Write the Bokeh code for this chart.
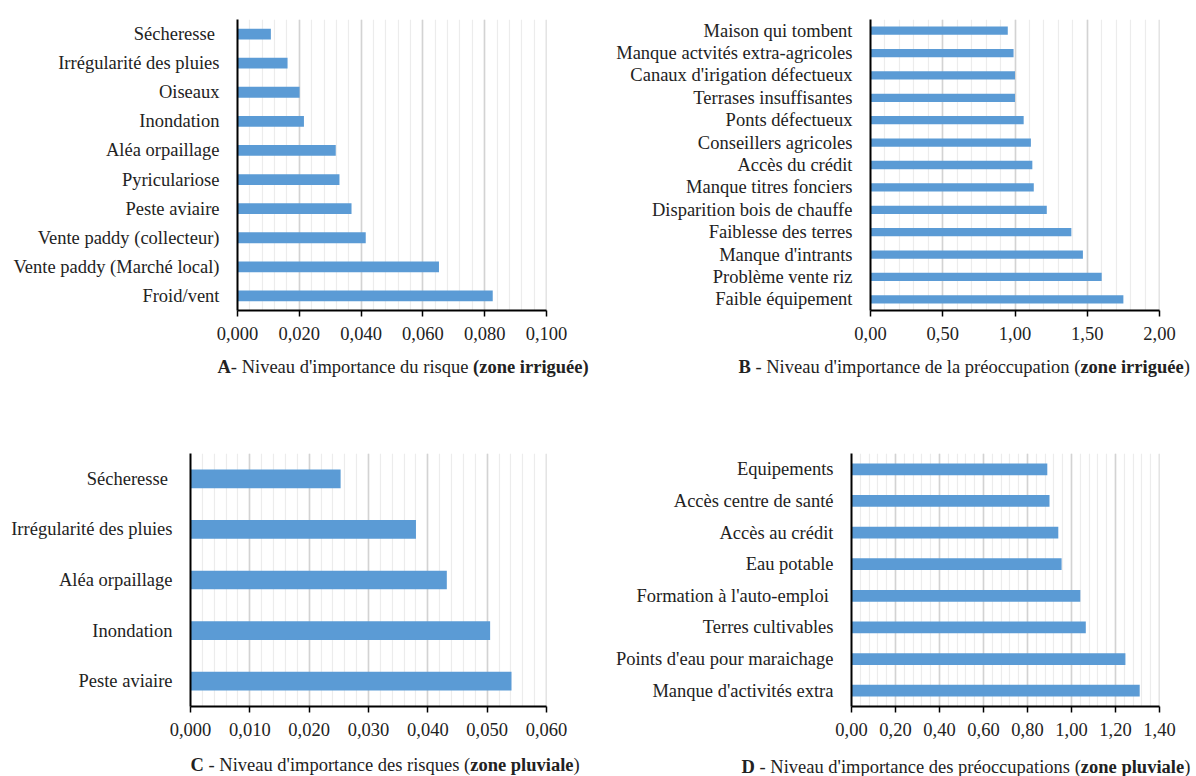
from bokeh.plotting import figure
from bokeh.models import (Range1d, SingleIntervalTicker, FixedTicker,
                          CustomJSTickFormatter, Label)
from bokeh.layouts import column, row
from bokeh.embed import file_html
from bokeh.resources import INLINE

# ---------------- data ----------------
A_labels = ["Sécheresse ", "Irrégularité des pluies", "Oiseaux", "Inondation",
            "Aléa orpaillage", "Pyriculariose", "Peste aviaire",
            "Vente paddy (collecteur)", "Vente paddy (Marché local)", "Froid/vent"]
A_values = [0.0108, 0.0162, 0.0201, 0.0215, 0.0318, 0.0330, 0.0369,
            0.0415, 0.0652, 0.0826]

B_labels = ["Maison qui tombent", "Manque actvités extra-agricoles",
            "Canaux d'irigation défectueux", "Terrases insuffisantes",
            "Ponts défectueux", "Conseillers agricoles", "Accès du crédit",
            "Manque titres fonciers", "Disparition bois de chauffe",
            "Faiblesse des terres", "Manque d'intrants", "Problème vente riz",
            "Faible équipement"]
B_values = [0.95, 0.99, 1.00, 1.00, 1.06, 1.11, 1.12, 1.13, 1.22, 1.39,
            1.47, 1.60, 1.75]

C_labels = ["Sécheresse ", "Irrégularité des pluies", "Aléa orpaillage",
            "Inondation", "Peste aviaire"]
C_values = [0.0253, 0.0380, 0.0432, 0.0505, 0.0541]

D_labels = ["Equipements", "Accès centre de santé", "Accès au crédit",
            "Eau potable", "Formation à l'auto-emploi ", "Terres cultivables",
            "Points d'eau pour maraichage", "Manque d'activités extra"]
D_values = [0.89, 0.90, 0.94, 0.955, 1.04, 1.065, 1.245, 1.31]

A_title = [("A", True), ("- Niveau d'importance du risque ", False),
           ("(zone irriguée)", True)]
B_title = [("B ", True), ("- Niveau d'importance de la préoccupation (", False),
           ("zone irriguée", True), (")", False)]
C_title = [("C ", True), ("- Niveau d'importance des risques (", False),
           ("zone pluviale", True), (")", False)]
D_title = [("D ", True), ("- Niveau d'importance des préoccupations (", False),
           ("zone pluviale", True), (")", False)]

# ---------------- style ----------------
FONT = "Liberation Serif"
FS = 18.5
TXT = "#222222"
BAR = "#5B9BD5"

REG = {' ': 250, "'": 180, '(': 333, ')': 333, ',': 250, '-': 333, '.': 250,
       '/': 278, 'A': 722, 'B': 667, 'C': 667, 'D': 722, 'N': 722,
       'a': 444, 'b': 500, 'c': 444, 'd': 500, 'e': 444, 'f': 333, 'g': 500,
       'h': 500, 'i': 278, 'j': 278, 'k': 500, 'l': 278, 'm': 778, 'n': 500,
       'o': 500, 'p': 500, 'q': 500, 'r': 333, 's': 389, 't': 278, 'u': 500,
       'v': 500, 'w': 722, 'x': 500, 'y': 500, 'z': 444, 'é': 444, 'è': 444,
       'à': 444}
BOLD = {' ': 250, '(': 333, ')': 333, '-': 333, 'A': 722, 'B': 667, 'C': 722,
        'D': 722, 'a': 500, 'e': 444, 'é': 444, 'g': 500, 'i': 278, 'l': 278,
        'n': 556, 'o': 500, 'p': 556, 'r': 444, 'u': 556, 'v': 500, 'z': 444}


def text_width(s, bold):
    tbl = BOLD if bold else REG
    return sum(tbl.get(ch, 500) for ch in s) / 1000.0 * FS


def panel(labels, values, xmax, interval, digits, width, height,
          left, right, top, bottom):
    n = len(labels)
    pos = [n - 1 - i for i in range(n)]
    p = figure(width=width, height=height, output_backend="svg",
               toolbar_location=None,
               x_range=Range1d(0, xmax * (1 + 1e-9)),
               y_range=Range1d(-0.5, n - 0.5),
               min_border_left=left, min_border_right=right,
               min_border_top=top, min_border_bottom=bottom)
    p.outline_line_color = None
    p.background_fill_color = "white"
    p.border_fill_color = "white"

    p.hbar(y=pos, left=0, right=values, height=0.37,
           fill_color=BAR, line_color=None)

    xa = p.xaxis[0]
    xa.ticker = SingleIntervalTicker(interval=interval, num_minor_ticks=5)
    xa.formatter = CustomJSTickFormatter(
        code="return tick.toFixed(%d).replace('.', ',');" % digits)
    xa.axis_line_color = "black"
    xa.axis_line_width = 2
    xa.major_tick_in = 0
    xa.major_tick_out = 6
    xa.major_tick_line_color = "black"
    xa.major_tick_line_width = 1.5
    xa.minor_tick_line_color = None
    xa.major_label_standoff = 10
    xa.major_label_text_font = FONT
    xa.major_label_text_font_size = f"{FS}px"
    xa.major_label_text_color = TXT

    ya = p.yaxis[0]
    ya.ticker = FixedTicker(ticks=pos)
    ya.major_label_overrides = {pp: lab for pp, lab in zip(pos, labels)}
    ya.axis_line_color = "black"
    ya.axis_line_width = 2
    ya.major_tick_line_color = None
    ya.minor_tick_line_color = None
    ya.major_label_standoff = 12
    ya.major_label_text_font = FONT
    ya.major_label_text_font_size = f"{FS}px"
    ya.major_label_text_color = TXT

    p.ygrid.grid_line_color = None
    p.xgrid.grid_line_color = "#d3d3d3"
    p.xgrid.grid_line_width = 1.6
    p.xgrid.minor_grid_line_color = "#ececec"
    p.xgrid.minor_grid_line_width = 1.2
    return p


def title_strip(width, height, titles):
    """titles: list of (parts, left_x_px, center_y_from_top_px)"""
    s = figure(width=width, height=height, output_backend="svg",
               toolbar_location=None, x_range=Range1d(0, width),
               y_range=Range1d(0, height), min_border=0,
               x_axis_location=None, y_axis_location=None)
    s.outline_line_color = None
    s.grid.grid_line_color = None
    for parts, x0, yc in titles:
        cursor = x0
        for txt, bold in parts:
            s.add_layout(Label(x=cursor, y=height - yc, text=txt,
                               text_font=FONT, text_font_size=f"{FS}px",
                               text_font_style="bold" if bold else "normal",
                               text_align="left", text_baseline="middle",
                               text_color=TXT))
            cursor += text_width(txt, bold)
    return s


pA = panel(A_labels, A_values, 0.1, 0.02, 3, 598, 350, 237, 52, 18, 39)
pB = panel(B_labels, B_values, 2.0, 0.5, 2, 598, 350, 272, 37, 19, 40)
strip1 = title_strip(1196, 32, [(A_title, 217, 16), (B_title, 738, 16)])
pC = panel(C_labels, C_values, 0.06, 0.01, 3, 598, 362, 190, 52, 71, 36)
pD = panel(D_labels, D_values, 1.4, 0.2, 2, 598, 362, 253, 37, 70, 38)
strip2 = title_strip(1196, 32, [(C_title, 190, 20), (D_title, 741, 22)])

layout = column(row(pA, pB), strip1, row(pC, pD), strip2)
open("out.html", "w").write(file_html(layout, INLINE))
